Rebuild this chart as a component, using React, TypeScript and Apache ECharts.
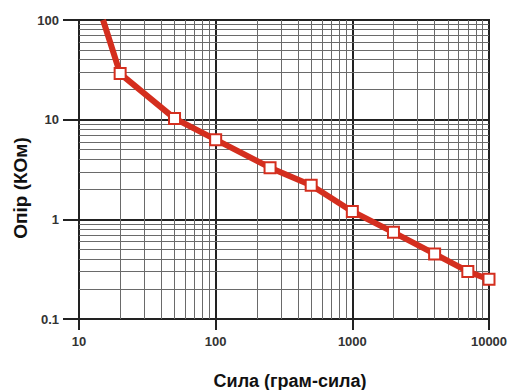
import React, { useEffect, useRef } from "react";
import * as echarts from "echarts";

const forceValues = [15, 20, 50, 100, 250, 500, 1000, 2000, 4000, 7000, 10000];
const resistanceValues = [100, 29, 10.3, 6.3, 3.3, 2.2, 1.2, 0.74, 0.45, 0.3, 0.25];
const markerShown = [false, true, true, true, true, true, true, true, true, true, true];
const xMinorGrid = [20, 30, 40, 50, 60, 70, 80, 90, 200, 300, 400, 500, 600, 700, 800, 900, 2000, 3000, 4000, 5000, 6000, 7000, 8000, 9000];
const yMinorGrid = [0.2, 0.3, 0.4, 0.5, 0.6, 0.7, 0.8, 0.9, 2, 3, 4, 5, 6, 7, 8, 9, 20, 30, 40, 50, 60, 70, 80, 90];
const xTickLabels = ["10", "100", "1000", "10000"];
const yTickLabels = ["0.1", "1", "10", "100"];
const xTitle = "Сила (грам-сила)";
const yTitle = "Опір (КОм)";

const RED = "#d42e1e";
const FONT = "'Liberation Sans', Arial, sans-serif";

export default function App() {
  const ref = useRef<HTMLDivElement>(null);
  useEffect(() => {
    if (!ref.current) return;
    const chart = echarts.init(ref.current, null, { renderer: "svg" });
    const minorStyle = { color: "#6a6a6a", width: 1, type: "solid" as const };
    chart.setOption({
      animation: false,
      backgroundColor: "#fff",
      grid: { left: 79, right: 22, top: 20, bottom: 71, show: true, borderColor: "#222", borderWidth: 2 },
      graphic: [
        {
          type: "text",
          x: 290,
          y: 381,
          style: { text: xTitle, font: `bold 18px ${FONT}`, fill: "#111", align: "center", verticalAlign: "middle" },
        },
        {
          type: "text",
          x: 20,
          y: 188,
          rotation: Math.PI / 2,
          style: { text: yTitle, font: `bold 19px ${FONT}`, fill: "#111", align: "center", verticalAlign: "middle" },
        },
      ],
      xAxis: {
        type: "log",
        logBase: 10,
        min: 10,
        max: 10000,
        axisLine: { show: true, lineStyle: { color: "#222", width: 2 } },
        axisTick: { show: true, length: 11, lineStyle: { color: "#222", width: 2 } },
        axisLabel: {
          fontFamily: FONT, fontWeight: "bold", fontSize: 13, color: "#333", margin: 16,
          formatter: (v: number) => xTickLabels.find((t) => Number(t) === Math.round(v)) ?? "",
        },
        splitLine: { show: true, lineStyle: { color: "#222", width: 2 } },
      },
      yAxis: {
        type: "log",
        logBase: 10,
        min: 0.1,
        max: 100,
        axisLine: { show: true, lineStyle: { color: "#222", width: 2 } },
        axisTick: { show: true, length: 16, lineStyle: { color: "#222", width: 2 } },
        axisLabel: {
          fontFamily: FONT, fontWeight: "bold", fontSize: 13, color: "#333", margin: 20,
          formatter: (v: number) => yTickLabels.find((t) => Math.abs(Number(t) - v) < 1e-9 * Math.max(1, v)) ?? "",
        },
        splitLine: { show: true, lineStyle: { color: "#222", width: 2 } },
      },
      series: [
        {
          type: "line",
          data: [],
          z: 1,
          silent: true,
          markLine: {
            silent: true,
            symbol: "none",
            label: { show: false },
            lineStyle: minorStyle,
            data: [
              ...xMinorGrid.map((v) => ({ xAxis: v })),
              ...yMinorGrid.map((v) => ({ yAxis: v })),
            ],
          },
        },
        {
          type: "line",
          z: 5,
          data: forceValues.map((f, i) => ({
            value: [f, resistanceValues[i]],
            symbol: markerShown[i] ? "rect" : "none",
          })),
          symbolSize: 11,
          itemStyle: { color: "#fff", borderColor: RED, borderWidth: 2 },
          lineStyle: { color: RED, width: 6 },
        },
      ],
    });
    return () => chart.dispose();
  }, []);
  return <div ref={ref} style={{ width: 511, height: 390, position: "absolute", left: 0, top: 0 }} />;
}
